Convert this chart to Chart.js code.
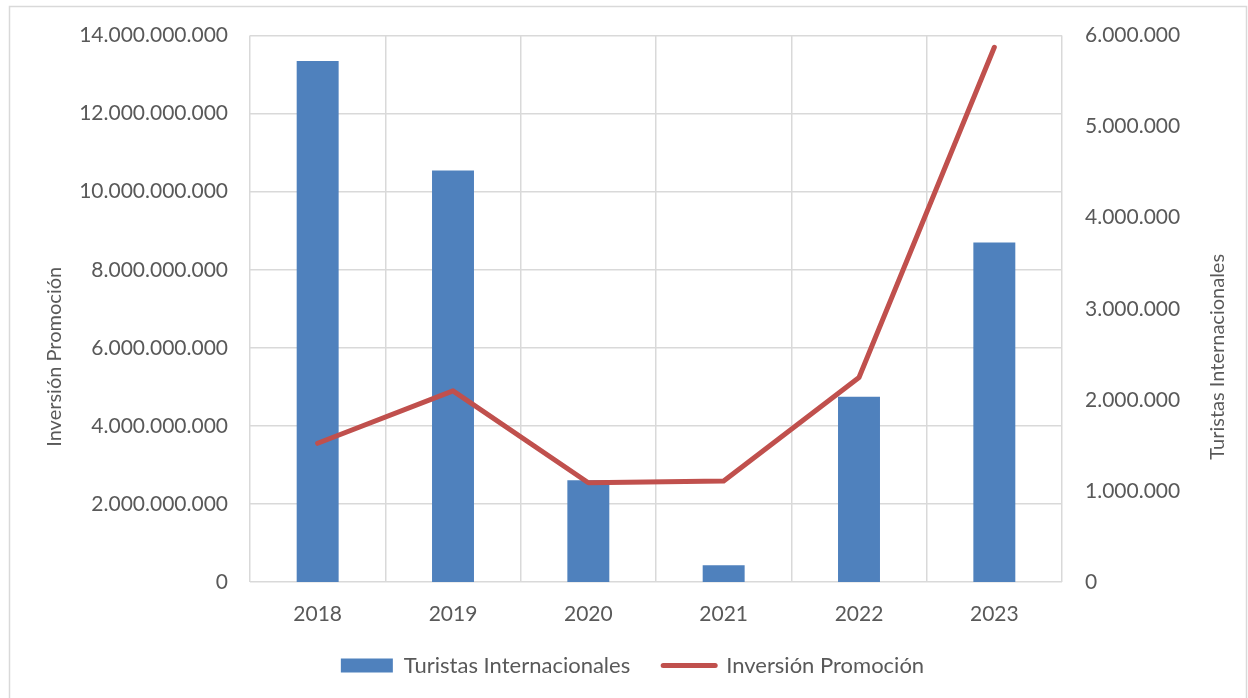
<!DOCTYPE html>
<html lang="es">
<head>
<meta charset="utf-8">
<title>Turistas Internacionales e Inversión Promoción</title>
<script src="https://cdn.jsdelivr.net/npm/chart.js@4.4.1/dist/chart.umd.min.js"></script>
<style>
  html, body { margin: 0; padding: 0; background: #ffffff; }
  #wrap { width: 1248px; height: 698px; }
</style>
</head>
<body>
<div id="wrap"><canvas id="chart" width="1248" height="698"></canvas></div>
<script>
// Years on the category axis
const years = ['2018', '2019', '2020', '2021', '2022', '2023'];
// International tourists (right axis)
const turistas = [5722000, 4520000, 1116000, 184000, 2033000, 3727000];
// Promotion investment (left axis)
const inversion = [3554000000, 4897000000, 2542000000, 2586000000, 5239000000, 13700000000];
// Axis ranges and steps
const leftRange = [0, 14000000000, 2000000000];
const rightRange = [0, 6000000, 1000000];
// Series and axis names
const seriesNames = ['Turistas Internacionales', 'Inversión Promoción'];
const axisTitles = ['Inversión Promoción', 'Turistas Internacionales'];

const FONT = 'Lato, "Open Sans", sans-serif';
const TEXT = '#595959';
const GRID = '#d9d9d9';
const BLUE = '#4f81bd';
const RED = '#c0504d';

// Thousands separated by dots
function fmt(v) {
  return String(Math.round(v)).replace(/\B(?=(\d{3})+(?!\d))/g, '.');
}

// White background and the light frame around the chart
const framePlugin = {
  id: 'frame',
  beforeDraw(chart) {
    const ctx = chart.ctx;
    ctx.save();
    ctx.fillStyle = '#ffffff';
    ctx.fillRect(0, 0, chart.width, chart.height);
    ctx.strokeStyle = GRID;
    ctx.lineWidth = 1.5;
    ctx.strokeRect(9.5, 6.5, chart.width - 11, chart.height + 20);
    ctx.restore();
  }
};

// Vertical axis titles
const axisTitlePlugin = {
  id: 'axisTitles',
  afterDraw(chart) {
    const ctx = chart.ctx;
    const area = chart.chartArea;
    const cy = (area.top + area.bottom) / 2 + 48;
    const spots = [
      [chart.scales.y.left + 23, axisTitles[0]],
      [chart.scales.y1.right - 15, axisTitles[1]]
    ];
    spots.forEach(([x, text]) => {
      ctx.save();
      ctx.fillStyle = TEXT;
      ctx.font = '20px ' + FONT;
      ctx.textAlign = 'center';
      ctx.textBaseline = 'middle';
      ctx.translate(x, cy);
      ctx.rotate(-Math.PI / 2);
      ctx.fillText(text, 0, 0);
      ctx.restore();
    });
  }
};

new Chart(document.getElementById('chart'), {
  type: 'bar',
  data: {
    labels: years,
    datasets: [
      {
        type: 'bar',
        label: seriesNames[0],
        data: turistas,
        yAxisID: 'y1',
        backgroundColor: BLUE,
        borderWidth: 0,
        barPercentage: 0.31,
        categoryPercentage: 1,
        order: 1
      },
      {
        type: 'line',
        label: seriesNames[1],
        data: inversion,
        yAxisID: 'y',
        borderColor: RED,
        backgroundColor: RED,
        borderWidth: 5,
        borderCapStyle: 'round',
        borderJoinStyle: 'round',
        pointRadius: 0,
        tension: 0,
        fill: false,
        order: 0
      }
    ]
  },
  options: {
    responsive: false,
    animation: false,
    devicePixelRatio: 1,
    layout: { padding: { top: 35.5, bottom: 11.5, left: 32, right: 15 } },
    plugins: {
      tooltip: { enabled: false },
      legend: {
        position: 'bottom',
        maxHeight: 70,
        labels: {
          usePointStyle: true,
          pointStyleWidth: 52,
          boxHeight: 14,
          padding: 33,
          color: TEXT,
          font: { family: FONT, size: 22 },
          sort: (a, b) => a.datasetIndex - b.datasetIndex,
          generateLabels(chart) {
            return chart.data.datasets.map((ds, i) => ({
              text: ds.label,
              datasetIndex: i,
              fillStyle: ds.type === 'line' ? RED : BLUE,
              strokeStyle: ds.type === 'line' ? RED : BLUE,
              lineWidth: ds.type === 'line' ? 5 : 0,
              lineCap: 'round',
              pointStyle: ds.type === 'line' ? 'line' : 'rect',
              fontColor: TEXT,
              hidden: false
            }));
          }
        }
      }
    },
    scales: {
      x: {
        offset: true,
        grid: { display: true, offset: true, color: GRID, lineWidth: 1.5, drawTicks: false },
        border: { display: false },
        ticks: { color: TEXT, font: { family: FONT, size: 21 }, padding: 20 },
        afterFit(scale) { scale.height = 39.5; }
      },
      y: {
        position: 'left',
        min: leftRange[0],
        max: leftRange[1],
        grid: { color: GRID, lineWidth: 1.5, drawTicks: false },
        border: { display: false },
        ticks: {
          stepSize: leftRange[2],
          color: TEXT,
          font: { family: FONT, size: 21 },
          padding: 22,
          callback: (v) => fmt(v)
        },
        afterFit(scale) { scale.width = 218; }
      },
      y1: {
        position: 'right',
        min: rightRange[0],
        max: rightRange[1],
        grid: { display: false, drawTicks: false },
        border: { display: false },
        ticks: {
          stepSize: rightRange[2],
          color: TEXT,
          font: { family: FONT, size: 21 },
          padding: 23,
          callback: (v) => fmt(v)
        },
        afterFit(scale) { scale.width = 171; }
      }
    }
  },
  plugins: [framePlugin, axisTitlePlugin]
});
</script>
</body>
</html>
